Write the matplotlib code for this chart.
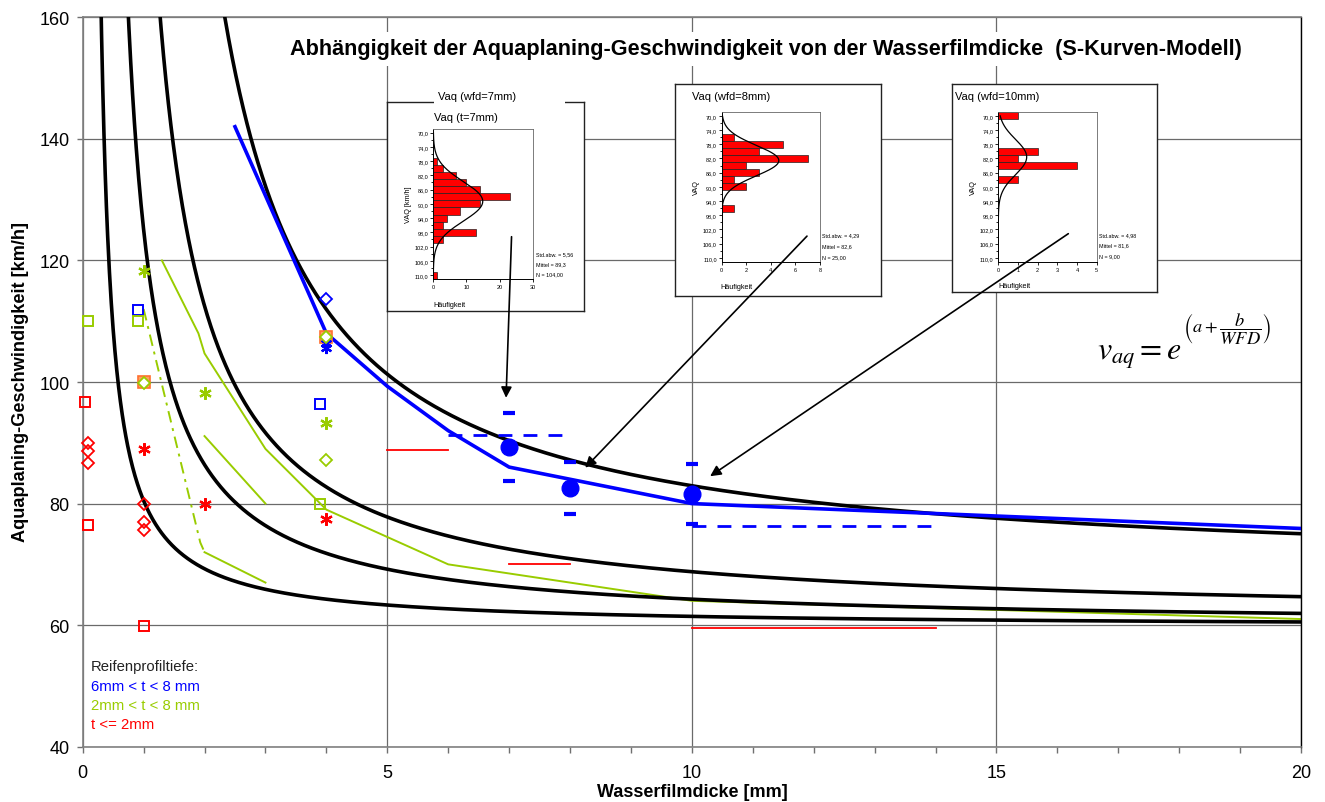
import numpy as np
import matplotlib
matplotlib.use('Agg')
import matplotlib.pyplot as plt
from matplotlib.patches import Rectangle, FancyArrowPatch
from matplotlib.ticker import MultipleLocator

plt.rcParams['font.family'] = ['Liberation Sans', 'DejaVu Sans']
plt.rcParams['mathtext.fontset'] = 'stix'

# ---------------- data ----------------
# S-curve model parameters  v = exp(a + b/WFD)
model_a = [4.218, 4.108, 4.089, 4.088]
model_b = [2.00, 1.23, 0.74, 0.30]

blue_x = [2.5, 4.0, 5.0, 6.0, 7.0, 10.0, 20.0]
blue_y = [142.0, 108.0, 99.3, 92.0, 86.0, 80.0, 75.9]

greenA_x = [1.3, 1.9, 2.0, 3.0, 3.9, 4.0, 6.0, 10.0, 20.0]
greenA_y = [120.0, 108.0, 104.7, 89.0, 80.0, 79.0, 70.0, 64.0, 61.0]
greenB_x = [2.0, 3.0]
greenB_y = [91.1, 80.0]
greenC_x = [1.0, 1.93, 2.0]
greenC_y = [112.0, 73.6, 72.0]
greenD_x = [2.0, 3.0]
greenD_y = [72.0, 67.0]

wfd = [7, 8, 10]
mean_v = [89.3, 82.6, 81.6]
std_v = [5.56, 4.29, 4.98]
n_v = [104, 25, 9]

blue_dash1_x = [6.0, 8.0]
blue_dash1_y = [91.3, 91.3]
blue_dash2_x = [10.0, 14.0]
blue_dash2_y = [76.3, 76.3]

red_seg_x0 = [5.0, 7.0, 10.0]
red_seg_x1 = [6.0, 8.0, 14.0]
red_seg_y = [88.8, 70.0, 59.5]

red_sq_x = [0.03, 0.09, 1.0]
red_sq_y = [96.7, 76.5, 59.9]
red_dia_x = [0.09, 0.09, 0.09, 1.0, 1.0, 1.0]
red_dia_y = [90.0, 88.6, 86.7, 79.9, 77.0, 75.6]
red_ast_x = [1.0, 2.0, 4.0]
red_ast_y = [89.0, 79.9, 77.4]

blue_sq_x = [0.9, 3.9]
blue_sq_y = [111.9, 96.3]
blue_dia_x = [4.0]
blue_dia_y = [113.7]
blue_ast_x = [4.0, 4.0]
blue_ast_y = [105.6, 106.4]

green_sq_x = [0.09, 0.9, 3.9]
green_sq_y = [110.0, 110.0, 80.0]
green_ast_x = [1.0, 2.0, 4.0]
green_ast_y = [118.2, 98.2, 93.3]
green_dia_x = [1.0, 4.0, 4.0]
green_dia_y = [99.8, 107.4, 87.2]
orange_sq_x = [1.0, 4.0]
orange_sq_y = [100.0, 107.4]

# histograms (bin centres in km/h, counts)
h1_bins = [78, 80, 82, 84, 86, 88, 90, 92, 94, 96, 98, 100, 110]
h1_counts = [1, 3, 7, 10, 14, 23, 14, 8, 4, 3, 13, 3, 1]
h2_bins = [76, 78, 80, 82, 84, 86, 88, 90, 96]
h2_counts = [1, 5, 3, 7, 2, 3, 1, 2, 1]
h3_bins = [70, 80, 82, 84, 88]
h3_counts = [1, 2, 1, 4, 1]

x_ticks = [0, 5, 10, 15, 20]
y_ticks = [40, 60, 80, 100, 120, 140, 160]

BLUE = '#0000ff'
GREEN = '#99cc00'
RED = '#ff0000'

# ---------------- figure ----------------
W, H = 1325, 803
fig = plt.figure(figsize=(W / 100, H / 100), dpi=100)


def fbox(x0, y0, x1, y1):
    return [x0 / W, 1 - y1 / H, (x1 - x0) / W, (y1 - y0) / H]


ax = fig.add_axes(fbox(82.7, 18.3, 1301, 747.7))
ax.set_xlim(0, 20)
ax.set_ylim(40, 160)
ax.set_axisbelow(True)
ax.set_xticks(x_ticks)
ax.set_yticks(y_ticks)
ax.xaxis.set_minor_locator(MultipleLocator(1))
ax.tick_params(axis='both', which='major', labelsize=13, length=4.5, width=1,
               color='#707070', direction='out')
ax.tick_params(axis='x', which='major', pad=8)
ax.tick_params(axis='y', which='major', pad=5)
ax.tick_params(axis='x', which='minor', length=4, width=1, color='#707070', direction='out')
ax.grid(True, which='major', color='#6a6a6a', lw=0.9)
for s in ['left', 'bottom', 'top']:
    ax.spines[s].set_color('#808080')
    ax.spines[s].set_linewidth(1.2)
ax.spines['right'].set_color('black')
ax.spines['right'].set_linewidth(1.0)

# model curves
xs = np.linspace(0.05, 20, 2000)
for a, b in zip(model_a, model_b):
    ax.plot(xs, np.exp(a + b / xs), color='black', lw=2.6, zorder=3, solid_capstyle='butt')

# green lines
ax.plot(greenA_x, greenA_y, color=GREEN, lw=1.4, zorder=2)
ax.plot(greenB_x, greenB_y, color=GREEN, lw=1.4, zorder=2)
ax.plot(greenC_x, greenC_y, color=GREEN, lw=1.4, zorder=2, dashes=(6, 3, 1.5, 3))
ax.plot(greenD_x, greenD_y, color=GREEN, lw=1.4, zorder=2)

# red lines
for x0, x1, y in zip(red_seg_x0, red_seg_x1, red_seg_y):
    ax.plot([x0, x1], [y, y], color=RED, lw=1.3, zorder=2)

# blue line and dashed
ax.plot(blue_x, blue_y, color=BLUE, lw=2.6, zorder=4)
ax.plot(blue_dash1_x, blue_dash1_y, color=BLUE, lw=2, dashes=(5, 4), zorder=4)
ax.plot(blue_dash2_x, blue_dash2_y, color=BLUE, lw=2, dashes=(5, 4), zorder=4)

# means and +/- std marks
ax.plot(wfd, mean_v, 'o', color=BLUE, ms=12, zorder=5)
ax.plot(wfd, np.array(mean_v) + np.array(std_v), '_', color=BLUE, ms=9, mew=3, zorder=5)
ax.plot(wfd, np.array(mean_v) - np.array(std_v), '_', color=BLUE, ms=9, mew=3, zorder=5)

# scatter markers
ast = (6, 2, 0)
mk = dict(ls='none', clip_on=False)
ax.plot(orange_sq_x, orange_sq_y, marker='s', ms=8.5, mfc='#ffa060', mec='#ff7030', mew=1.2, zorder=6, **mk)
ax.plot(red_sq_x, red_sq_y, marker='s', ms=7.5, mfc='none', mec=RED, mew=1.4, zorder=6, **mk)
ax.plot(red_dia_x, red_dia_y, marker='D', ms=6, mfc='none', mec=RED, mew=1.3, zorder=6, **mk)
ax.plot(red_ast_x, red_ast_y, marker=ast, ms=9, mec=RED, mew=1.6, zorder=6, **mk)
ax.plot(blue_sq_x, blue_sq_y, marker='s', ms=7.5, mfc='none', mec=BLUE, mew=1.4, zorder=6, **mk)
ax.plot(blue_dia_x, blue_dia_y, marker='D', ms=6, mfc='none', mec=BLUE, mew=1.3, zorder=6, **mk)
ax.plot(blue_ast_x, blue_ast_y, marker=ast, ms=8, mec=BLUE, mew=1.6, zorder=6, **mk)
ax.plot(green_sq_x, green_sq_y, marker='s', ms=7.5, mfc='none', mec=GREEN, mew=1.4, zorder=6, **mk)
ax.plot(green_ast_x, green_ast_y, marker=ast, ms=9, mec=GREEN, mew=1.6, zorder=6, **mk)
ax.plot(green_dia_x, green_dia_y, marker='D', ms=6, mfc='white', mec=GREEN, mew=1.3, zorder=7, **mk)

# legend-like text
ax.text(0.13, 53.2, 'Reifenprofiltiefe:', color='#222222', fontsize=10.7, va='center', zorder=8)
ax.text(0.13, 50.0, '6mm < t < 8 mm', color=BLUE, fontsize=10.7, va='center', zorder=8)
ax.text(0.13, 46.9, '2mm < t < 8 mm', color=GREEN, fontsize=10.7, va='center', zorder=8)
ax.text(0.13, 43.8, 't <= 2mm', color=RED, fontsize=10.7, va='center', zorder=8)

# formula
fig.text(1097 / W, 1 - 360 / H, r'$v_{aq}=e$', fontsize=23, ha='left', va='baseline')
fig.text(1183 / W, 1 - 328 / H, r'$\left(a+\dfrac{b}{WFD}\right)$', fontsize=13.2,
         ha='left', va='center')

# title
fig.text(766 / W, 1 - 50 / H,
         'Abhängigkeit der Aquaplaning-Geschwindigkeit von der Wasserfilmdicke  (S-Kurven-Modell)',
         fontsize=15.6, fontweight='bold', ha='center', va='center',
         bbox=dict(facecolor='white', edgecolor='none', pad=5), zorder=4)

# axis labels
fig.text(692 / W, 1 - 793 / H, 'Wasserfilmdicke [mm]', fontsize=13, fontweight='bold',
         ha='center', va='center')
fig.text(21 / W, 1 - 382 / H, 'Aquaplaning-Geschwindigkeit [km/h]', fontsize=13.1,
         fontweight='bold', ha='center', va='center', rotation=90)


# ---------------- insets ----------------
def draw_inset(frame, plot, bins, counts, mean, std, n, xmax, xticks, ylab,
               stats_x, stats_ys, hx):
    fax = fig.add_axes(fbox(*frame))
    fax.set_xticks([])
    fax.set_yticks([])
    for s in fax.spines.values():
        s.set_color('#222222')
        s.set_linewidth(1.0)
    hax = fig.add_axes(fbox(*plot))
    hax.barh(bins, counts, height=2, color=RED, edgecolor='#222222', lw=0.5, zorder=2)
    yy = np.linspace(70, 110, 400)
    xx = n * 2 / (std * np.sqrt(2 * np.pi)) * np.exp(-0.5 * ((yy - mean) / std) ** 2)
    hax.plot(xx, yy, color='black', lw=0.9, zorder=3)
    hax.set_xlim(0, xmax)
    hax.set_ylim(111.1, 69.0)
    hax.set_xticks(xticks)
    hax.set_yticks(list(range(70, 111, 4)))
    hax.set_yticklabels([f'{v:.1f}'.replace('.', ',') for v in range(70, 111, 4)])
    hax.yaxis.set_minor_locator(MultipleLocator(2))
    hax.tick_params(axis='both', which='major', labelsize=4, length=2, width=0.6, pad=1.5)
    hax.tick_params(axis='y', which='minor', length=1.5, width=0.6)
    for s in ['top', 'right']:
        hax.spines[s].set_color('#666666')
        hax.spines[s].set_linewidth(0.6)
    for s in ['left', 'bottom']:
        hax.spines[s].set_linewidth(0.7)
    hax.set_ylabel(ylab, fontsize=5.2, labelpad=2)
    labels = ['Std.abw. = ' + f'{std:.2f}'.replace('.', ','),
              'Mittel = ' + f'{mean:.1f}'.replace('.', ','),
              'N = ' + f'{n:.2f}'.replace('.', ',')]
    for t, yv in zip(labels, stats_ys):
        fig.text(stats_x / W, 1 - yv / H, t, fontsize=3.9, va='center', ha='left')
    fig.text(hx[0] / W, 1 - hx[1] / H, 'Häufigkeit', fontsize=5.2, va='center', ha='left')
    return hax


draw_inset((386.7, 102.7, 584, 312), (433.3, 130, 532.7, 280),
           h1_bins, h1_counts, mean_v[0], std_v[0], n_v[0], 30, [0, 10, 20, 30],
           'VAQ [km/h]', 535.5, [254.3, 264.3, 274.3], (433, 305.7))
draw_inset((675, 85, 880.7, 297.3), (721.7, 113.3, 820, 262.7),
           h2_bins, h2_counts, mean_v[1], std_v[1], n_v[1], 8, [0, 2, 4, 6, 8],
           'VAQ', 821.7, [236, 246.7, 257.7], (720.7, 287.3))
draw_inset((951.7, 85, 1156.7, 293.3), (998.3, 113.3, 1096.7, 262.7),
           h3_bins, h3_counts, mean_v[2], std_v[2], n_v[2], 5, [0, 1, 2, 3, 4, 5],
           'VAQ', 1099, [236, 245.7, 256.7], (998.3, 286))

# inset titles
fig.add_artist(Rectangle((434 / W, 1 - 108 / H), (565 - 434) / W, 16 / H,
                         transform=fig.transFigure, facecolor='white', edgecolor='none', zorder=1))
fig.text(438 / W, 1 - 97 / H, 'Vaq (wfd=7mm)', fontsize=8, va='center', ha='left')
fig.text(434.5 / W, 1 - 117.7 / H, 'Vaq (t=7mm)', fontsize=8, va='center', ha='left')
fig.text(691.7 / W, 1 - 96.7 / H, 'Vaq (wfd=8mm)', fontsize=8, va='center', ha='left')
fig.text(955 / W, 1 - 96.7 / H, 'Vaq (wfd=10mm)', fontsize=8, va='center', ha='left')

# arrows from the histograms to the points
arrow_from = [(7.04, 123.9), (11.89, 124.0), (16.18, 124.4)]
arrow_to = [(6.95, 97.4), (8.25, 85.9), (10.3, 84.5)]
for p0, p1 in zip(arrow_from, arrow_to):
    arr = FancyArrowPatch(p0, p1, transform=ax.transData, arrowstyle='-|>',
                          mutation_scale=16, lw=1.2, color='black', zorder=20,
                          shrinkA=0, shrinkB=0)
    fig.add_artist(arr)

fig.savefig('out.png', dpi=100)
